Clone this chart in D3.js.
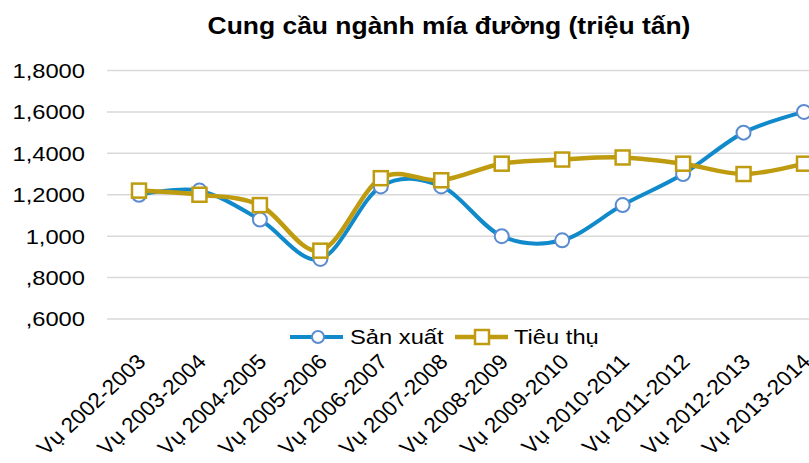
<!DOCTYPE html>
<html>
<head>
<meta charset="utf-8">
<script src="https://cdn.jsdelivr.net/npm/d3@7"></script>
<style>
  body { margin: 0; background: #fff; }
  text { font-family: "Liberation Sans", Arial, sans-serif; fill: #000; }
</style>
</head>
<body>
<div id="chart"></div>
<script>
// data
const seasons = ["Vụ 2002-2003", "Vụ 2003-2004", "Vụ 2004-2005", "Vụ 2005-2006", "Vụ 2006-2007", "Vụ 2007-2008",
    "Vụ 2008-2009", "Vụ 2009-2010", "Vụ 2010-2011", "Vụ 2011-2012", "Vụ 2012-2013", "Vụ 2013-2014"];
const sanXuat = [1.20, 1.22, 1.08, 0.89, 1.24, 1.24, 1.00, 0.98, 1.15, 1.30, 1.50, 1.60];
const tieuThu = [1.22, 1.20, 1.15, 0.93, 1.28, 1.27, 1.35, 1.37, 1.38, 1.35, 1.30, 1.35];
const yTicks = [0.6, 0.8, 1.0, 1.2, 1.4, 1.6, 1.8];
const yTickLabels = [",6000", ",8000", "1,000", "1,2000", "1,4000", "1,6000", "1,8000"];

const width = 809, height = 463;
const blue = "#118acb", blueMarker = "#5b8bd0", gold = "#bf9b10";
const sx = 1.13; // text in the picture is a bit wide

const svg = d3.select("#chart")
    .append("svg")
    .attr("width", width)
    .attr("height", height);

const x = d3.scalePoint()
    .domain(seasons)
    .range([139, 804]);

const y = d3.scaleLinear()
    .domain([0.6, 1.8])
    .range([319, 70.5]);

// title
svg.append("text")
    .attr("transform", "translate(449,34) scale(1.15,1)")
    .attr("text-anchor", "middle")
    .style("font-size", "23px")
    .style("font-weight", "bold")
    .text("Cung cầu ngành mía đường (triệu tấn)");

// gridlines
svg.append("g")
    .selectAll("line")
    .data(yTicks)
    .enter()
    .append("line")
    .attr("x1", 107)
    .attr("x2", width)
    .attr("y1", d => y(d))
    .attr("y2", d => y(d))
    .style("stroke", "#d9d9d9")
    .style("stroke-width", 1.5);

// y labels
svg.append("g")
    .selectAll("text")
    .data(yTicks)
    .enter()
    .append("text")
    .attr("transform", d => "translate(85," + y(d) + ") scale(" + sx + ",1)")
    .attr("dy", "0.35em")
    .attr("text-anchor", "end")
    .style("font-size", "21px")
    .text((d, i) => yTickLabels[i]);

// x labels
svg.append("g")
    .selectAll("text")
    .data(seasons)
    .enter()
    .append("text")
    .attr("transform", d => "translate(" + (x(d) + 8) + ",363) scale(1.08,1) rotate(-45)")
    .attr("text-anchor", "end")
    .style("font-size", "21px")
    .text(d => d);

const line = d3.line()
    .x((d, i) => x(seasons[i]))
    .y(d => y(d))
    .curve(d3.curveCardinal.tension(0));

svg.append("path")
    .datum(sanXuat)
    .attr("d", line)
    .style("fill", "none")
    .style("stroke", blue)
    .style("stroke-width", 4);

svg.append("path")
    .datum(tieuThu)
    .attr("d", line)
    .style("fill", "none")
    .style("stroke", gold)
    .style("stroke-width", 4.5);

svg.append("g")
    .selectAll("circle")
    .data(sanXuat)
    .enter()
    .append("circle")
    .attr("cx", (d, i) => x(seasons[i]))
    .attr("cy", d => y(d))
    .attr("r", 7)
    .style("fill", "#fff")
    .style("stroke", blueMarker)
    .style("stroke-width", 2);

svg.append("g")
    .selectAll("rect")
    .data(tieuThu)
    .enter()
    .append("rect")
    .attr("x", (d, i) => x(seasons[i]) - 7)
    .attr("y", d => y(d) - 7)
    .attr("width", 14)
    .attr("height", 14)
    .style("fill", "#fff")
    .style("stroke", gold)
    .style("stroke-width", 2.5);

// legend
let lg = svg.append("g");
lg.append("line").attr("x1", 290).attr("x2", 343).attr("y1", 337).attr("y2", 337)
    .style("stroke", blue).style("stroke-width", 4);
lg.append("circle").attr("cx", 318).attr("cy", 337).attr("r", 6)
    .style("fill", "#fff").style("stroke", blueMarker).style("stroke-width", 2);
lg.append("text").attr("transform", "translate(350,344) scale(" + sx + ",1)")
    .style("font-size", "21px").text("Sản xuất");
lg.append("line").attr("x1", 455).attr("x2", 508).attr("y1", 337).attr("y2", 337)
    .style("stroke", gold).style("stroke-width", 4.5);
lg.append("rect").attr("x", 475).attr("y", 330).attr("width", 14).attr("height", 14)
    .style("fill", "#fff").style("stroke", gold).style("stroke-width", 2.5);
lg.append("text").attr("transform", "translate(514,344) scale(" + sx + ",1)")
    .style("font-size", "21px").text("Tiêu thụ");
</script>
</body>
</html>
